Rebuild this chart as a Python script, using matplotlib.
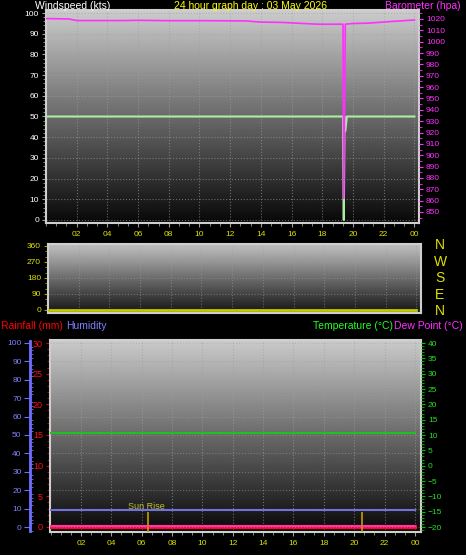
import matplotlib.pyplot as plt
import numpy as np
from matplotlib.ticker import MultipleLocator

plt.rcParams['font.family'] = ['Liberation Sans', 'DejaVu Sans']

# top panel: windspeed (kts) and barometer (hpa)
wind_hours = [0, 19.35, 19.4, 19.45, 19.5, 19.6, 24]
wind_kts = [50, 50, 0, 50, 43, 50, 50]

baro_hours = [0, 0.2, 1.5, 2.0, 5.0, 6.0, 8.0, 10.0, 13.0, 14.0, 15.3, 17.7,
              19.35, 19.4, 19.5, 20.0, 21.0, 22.3, 23.0, 24.0]
baro_hpa = [1020.3, 1020.3, 1020.0, 1018.6, 1018.6, 1018.8, 1018.5, 1018.5, 1018.3,
            1017.2, 1017.0, 1015.4, 1015.4, 862.0, 1015.4, 1016.0, 1016.3, 1017.6,
            1018.2, 1019.1]

# middle panel: wind direction (deg)
dir_hours = [0, 24]
dir_deg = [0, 0]

# bottom panel
day_hours = [0, 24]
temp_c = [10.6, 10.6]
dew_c = [-19.6, -19.6]
hum_pct = [9.2, 9.2]
rain_mm = [0, 0]

sunrise_h = 6.4
sunset_h = 20.5

hour_ticks = list(range(2, 25, 2))
hour_labels = [f"{h % 24:02d}" for h in hour_ticks]

W, H = 466, 555
YELLOW = '#e0e000'
FRAME = '#cfcfcf'


def px_axes(fig, x0, y0, x1, y1):
    return fig.add_axes([x0 / W, 1 - y1 / H, (x1 - x0) / W, (y1 - y0) / H])


def add_gradient(ax, top, bottom):
    grad = np.linspace(top, bottom, 256)[:, None]
    ax.imshow(grad, cmap='gray', vmin=0, vmax=1, extent=[0, 1, 0, 1],
              transform=ax.transAxes, aspect='auto', zorder=-1)


def style_frame(ax):
    ax.set_facecolor('black')
    for s in ax.spines.values():
        s.set_color(FRAME)
        s.set_linewidth(1.5)


def style_hours(ax):
    ax.set_xticks(hour_ticks)
    ax.set_xticklabels(hour_labels)
    ax.xaxis.set_minor_locator(MultipleLocator(2 / 3))
    ax.tick_params(axis='x', which='major', colors='#9a9a9a', length=3, pad=3,
                   labelsize=6, labelcolor=YELLOW)
    ax.tick_params(axis='x', which='minor', colors='#9a9a9a', length=2)
    ax.grid(True, which='major', color='#a0a0a0', linestyle=':', linewidth=0.8, alpha=0.6)


fig = plt.figure(figsize=(W / 100, H / 100), dpi=100, facecolor='black')

# ---- top panel ----
ax1 = px_axes(fig, 46, 10, 419, 223)
style_frame(ax1)
add_gradient(ax1, 0.80, 0.03)
ax1.plot(wind_hours, wind_kts, color='#a8f0a0', linewidth=1.5, zorder=3)
ax1.set_xlim(0, 24.3)
ax1.set_ylim(-1.45, 101.45)
ax1.yaxis.set_major_locator(MultipleLocator(10))
ax1.yaxis.set_minor_locator(MultipleLocator(2))
ax1.tick_params(axis='y', which='major', colors='#a0a0a0', length=3, pad=2,
                labelsize=6, labelcolor='white')
ax1.tick_params(axis='y', which='minor', colors='#a0a0a0', length=2)
style_hours(ax1)

ax1b = ax1.twinx()
ax1b.plot(baro_hours, baro_hpa, color='#ff30ff', linewidth=1.2, zorder=3)
ax1b.set_ylim(840.3, 1027.9)
ax1b.set_yticks(list(range(850, 1021, 10)))
ax1b.yaxis.set_minor_locator(MultipleLocator(5))
ax1b.tick_params(axis='y', which='major', colors='#ff30ff', length=3, pad=2,
                 labelsize=6, labelcolor='#ff30ff')
ax1b.tick_params(axis='y', which='minor', colors='#ff30ff', length=2)
for s in ax1b.spines.values():
    s.set_visible(False)

# ---- middle panel: wind direction ----
ax2 = px_axes(fig, 48, 244, 421, 313)
style_frame(ax2)
add_gradient(ax2, 0.76, 0.08)
ax2.plot(dir_hours, dir_deg, color='#c8c800', linewidth=2, zorder=3)
ax2.set_xlim(0, 24.3)
ax2.set_ylim(-16.9, 371)
ax2.set_yticks([0, 90, 180, 270, 360])
ax2.yaxis.set_minor_locator(MultipleLocator(30))
ax2.tick_params(axis='y', which='major', colors='#a0a000', length=3, pad=2,
                labelsize=6, labelcolor=YELLOW)
ax2.tick_params(axis='y', which='minor', colors='#a0a000', length=2)
ax2.set_xticks(hour_ticks)
ax2.tick_params(axis='x', length=0, labelbottom=False)
ax2.grid(True, axis='both', color='#a0a0a0', linestyle=':', linewidth=0.8, alpha=0.5)

for lab, y in zip(['N', 'W', 'S', 'E', 'N'], [245, 262, 278, 295, 311]):
    fig.text(440 / W, 1 - y / H, lab, color=YELLOW, fontsize=10, ha='center', va='center')

# ---- bottom panel: rain / humidity / temperature ----
ax3 = px_axes(fig, 50, 340, 421, 532)
style_frame(ax3)
add_gradient(ax3, 0.80, 0.03)
ax3.set_xlim(-0.04, 24.4)
ax3.set_ylim(-0.82, 30.49)
ax3.yaxis.set_major_locator(MultipleLocator(5))
ax3.yaxis.set_minor_locator(MultipleLocator(1))
ax3.tick_params(axis='y', which='major', colors='#e00000', length=3, pad=2,
                labelsize=6.5, labelcolor='#ff1010')
ax3.tick_params(axis='y', which='minor', colors='#e00000', length=2)
style_hours(ax3)
ax3.grid(False, axis='y')
ax3.plot(day_hours, rain_mm, color='#ff0030', linewidth=3, zorder=3)

ax3h = ax3.twinx()
ax3h.set_ylim(-2.7, 101.6)
ax3h.yaxis.set_ticks_position('left')
ax3h.yaxis.set_label_position('left')
ax3h.spines['left'].set_position(('axes', -0.054))
ax3h.spines['left'].set_color('#7070ff')
ax3h.spines['left'].set_linewidth(2)
ax3h.spines['left'].set_bounds(-2, 101)
for k in ['right', 'top', 'bottom']:
    ax3h.spines[k].set_visible(False)
ax3h.yaxis.set_major_locator(MultipleLocator(10))
ax3h.yaxis.set_minor_locator(MultipleLocator(2))
ax3h.tick_params(axis='y', which='major', colors='#7070ff', length=4, pad=2,
                 labelsize=6, labelcolor='#8080ff')
ax3h.tick_params(axis='y', which='minor', colors='#7070ff', length=2, direction='in')
ax3h.grid(True, axis='y', color='#a0a0a0', linestyle=':', linewidth=0.8, alpha=0.5)
ax3h.plot(day_hours, hum_pct, color='#7070e0', linewidth=1.5, zorder=3)
ax3h.vlines([sunrise_h, sunset_h], -2.7, 8.2, color='#c0a000', linewidth=1.2, zorder=3)
ax3h.text(sunrise_h - 0.1, 10.9, 'Sun Rise', color='#c0c030', fontsize=6.5,
          ha='center', va='center', zorder=4)

ax3t = ax3.twinx()
ax3t.set_ylim(-21.63, 40.98)
ax3t.yaxis.set_major_locator(MultipleLocator(5))
ax3t.yaxis.set_minor_locator(MultipleLocator(1))
ax3t.tick_params(axis='y', which='major', colors='#00c000', length=3, pad=2,
                 labelsize=6, labelcolor='#20e020')
ax3t.tick_params(axis='y', which='minor', colors='#00c000', length=2)
for s in ax3t.spines.values():
    s.set_visible(False)
ax3t.plot(day_hours, temp_c, color='#20c020', linewidth=1.5, zorder=3)
ax3t.plot(day_hours, dew_c, color='#ff40c0', linewidth=1.2, zorder=4)

# ---- captions ----
fig.text(35 / W, 1 - 6 / H, 'Windspeed (kts)', color='white', fontsize=7.5, va='center', ha='left')
fig.text(251 / W, 1 - 6 / H, '24 hour graph day : 03 May 2026', color='#ffff00',
         fontsize=7.5, va='center', ha='center')
fig.text(461 / W, 1 - 6 / H, 'Barometer (hpa)', color='#ff30ff', fontsize=7.5, va='center', ha='right')
fig.text(1 / W, 1 - 326 / H, 'Rainfall (mm)', color='#ff0000', fontsize=7.5, va='center', ha='left')
fig.text(66 / W, 1 - 326 / H, 'Humidity', color='#8080ff', fontsize=7.5, va='center', ha='left')
fig.text(313 / W, 1 - 326 / H, 'Temperature (°C)', color='#20ff20', fontsize=7.5, va='center', ha='left')
fig.text(463 / W, 1 - 326 / H, 'Dew Point (°C)', color='#ff30ff', fontsize=7.5, va='center', ha='right')

fig.savefig('out.png', dpi=100, facecolor='black')
